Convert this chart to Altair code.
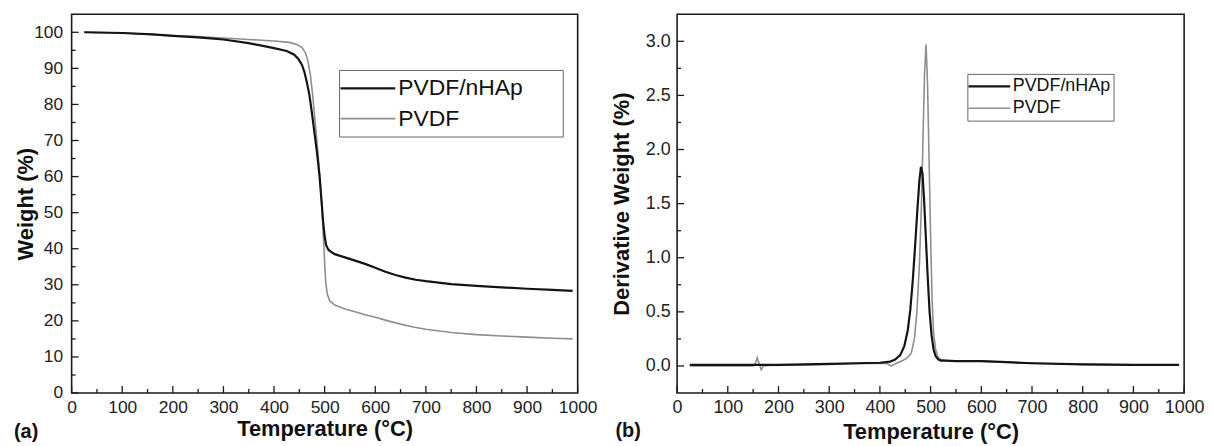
import altair as alt
import pandas as pd

FONT = "Liberation Sans"
SERIES = ["PVDF/nHAp", "PVDF"]
COLORS = ["#141414", "#8e8e8e"]
WIDTHS = [2.2, 1.6]

# ---- (a) TGA: weight (%) vs temperature (°C)
tga_nhap_T = [25, 100, 160, 200, 250, 300, 350, 400, 425, 440, 448, 455, 460, 465, 470, 475,
              480, 485, 490, 494, 497, 500, 503, 507, 512, 520, 540, 560, 580, 600, 620, 640,
              660, 680, 700, 750, 800, 850, 900, 950, 990]
tga_nhap_W = [100, 99.8, 99.4, 99.0, 98.6, 98.0, 97.0, 95.6, 94.8, 93.8, 92.6, 91.0, 89.0, 86.0,
              82.5, 77.5, 72.0, 66.5, 60.0, 53.0, 47.5, 43.5, 41.0, 39.8, 39.2, 38.5, 37.6, 36.7,
              35.8, 34.7, 33.6, 32.7, 32.0, 31.4, 31.0, 30.2, 29.7, 29.3, 28.9, 28.6, 28.3]
tga_pvdf_T = [25, 100, 160, 200, 250, 300, 350, 400, 430, 445, 455, 462, 467, 472, 476, 480,
              484, 488, 492, 495, 498, 500, 502, 505, 510, 520, 540, 560, 580, 600, 625, 650,
              675, 700, 750, 800, 850, 900, 950, 990]
tga_pvdf_W = [100, 99.8, 99.4, 99.1, 98.8, 98.4, 98.0, 97.6, 97.2, 96.6, 95.8, 94.3, 92.0, 88.0,
              83.0, 77.0, 71.0, 64.5, 57.0, 50.0, 42.0, 36.0, 31.0, 27.5, 25.6, 24.4, 23.3, 22.5,
              21.7, 21.0, 20.0, 19.1, 18.3, 17.7, 16.8, 16.2, 15.8, 15.5, 15.2, 15.0]

# ---- (b) DTG: derivative weight (%) vs temperature (°C)
dtg_nhap_T = [25, 100, 150, 200, 250, 300, 350, 400, 420, 430, 440, 448, 455, 460, 465, 470,
              474, 478, 481, 484, 487, 490, 494, 498, 502, 506, 510, 515, 520, 530, 550, 600,
              650, 700, 800, 900, 990]
dtg_nhap_V = [0.01, 0.01, 0.01, 0.01, 0.015, 0.02, 0.025, 0.03, 0.04, 0.06, 0.10, 0.18, 0.33,
              0.52, 0.80, 1.15, 1.45, 1.72, 1.84, 1.78, 1.55, 1.25, 0.85, 0.50, 0.28, 0.15, 0.09,
              0.06, 0.05, 0.05, 0.045, 0.045, 0.035, 0.025, 0.015, 0.01, 0.01]
dtg_pvdf_T = [25, 100, 150, 155, 158, 162, 166, 170, 180, 250, 300, 350, 400, 415, 422, 428,
              435, 445, 455, 462, 468, 473, 478, 482, 485, 488, 491, 494, 497, 500, 503, 506,
              510, 515, 520, 530, 550, 600, 650, 700, 800, 900, 990]
dtg_pvdf_V = [0.0, 0.0, 0.0, 0.03, 0.075, 0.02, -0.035, 0.0, 0.005, 0.01, 0.015, 0.02, 0.025,
              0.02, 0.0, 0.015, 0.03, 0.05, 0.08, 0.12, 0.25, 0.50, 0.95, 1.50, 2.10, 2.70,
              2.97, 2.60, 1.90, 1.20, 0.60, 0.30, 0.15, 0.08, 0.06, 0.05, 0.045, 0.045, 0.035,
              0.025, 0.015, 0.01, 0.01]

# ---- tick values
x_major = list(range(0, 1001, 100))
x_minor = list(range(50, 1000, 100))
tga_y_major = list(range(0, 101, 10))
tga_y_minor = list(range(5, 100, 10))
dtg_y_major = [0.0, 0.5, 1.0, 1.5, 2.0, 2.5, 3.0]
dtg_y_minor = [0.25, 0.75, 1.25, 1.75, 2.25, 2.75]

X_DOM = [0, 1000]
TGA_DOM = [0, 105]
DTG_DOM = [-0.25, 3.25]

tga_df = pd.concat([
    pd.DataFrame({"series": SERIES[1], "T": tga_pvdf_T, "value": tga_pvdf_W}),
    pd.DataFrame({"series": SERIES[0], "T": tga_nhap_T, "value": tga_nhap_W}),
])
dtg_df = pd.concat([
    pd.DataFrame({"series": SERIES[1], "T": dtg_pvdf_T, "value": dtg_pvdf_V}),
    pd.DataFrame({"series": SERIES[0], "T": dtg_nhap_T, "value": dtg_nhap_V}),
])

BLANK = "\u2800"  # invisible pad glyph that widens the legend box
LINE_SYMBOL = "M-2.5,0H2.5"


def sc(dom):
    return alt.Scale(domain=dom, nice=False, zero=False)


def panel(df, W, H, ydom, ymaj, ymin, ytitle, yfmt, lab_size, ylab_pad, ytitle_pad,
          xtitle_pad, legend, tag, tag_x, tag_y):
    x_axis = alt.Axis(values=x_major, format="d", title="Temperature (°C)",
                      labelFontSize=lab_size, labelPadding=6, labelOverlap=False,
                      labelFlush=False, titleFontSize=22, titlePadding=xtitle_pad)
    y_axis = alt.Axis(values=ymaj, format=yfmt, title=ytitle,
                      labelFontSize=lab_size, labelPadding=ylab_pad, labelOverlap=False,
                      labelFlush=False, titleFontSize=22, titlePadding=ytitle_pad)

    def ticks(values, length, which):
        base = alt.Chart(pd.DataFrame({"v": values})).mark_rule(color="#1a1a1a", strokeWidth=1.3)
        if which == "x":
            return base.encode(x=alt.X("v:Q", scale=sc(X_DOM), axis=x_axis),
                               y=alt.value(H), y2=alt.value(H - length))
        return base.encode(y=alt.Y("v:Q", scale=sc(ydom), axis=y_axis),
                           x=alt.value(0), x2=alt.value(length))

    lines = alt.Chart(df).mark_line(clip=True).encode(
        x=alt.X("T:Q", scale=sc(X_DOM), axis=x_axis),
        y=alt.Y("value:Q", scale=sc(ydom), axis=y_axis),
        color=alt.Color("series:N", scale=alt.Scale(domain=SERIES, range=COLORS), legend=legend),
        strokeWidth=alt.StrokeWidth("series:N", scale=alt.Scale(domain=SERIES, range=WIDTHS),
                                    legend=None),
    )
    tag_mark = alt.Chart(pd.DataFrame({"tag": [tag]})).mark_text(
        align="left", baseline="middle", font=FONT, fontSize=20, fontWeight="bold", color="#111"
    ).encode(text="tag:N", x=alt.value(tag_x), y=alt.value(tag_y))
    return alt.layer(
        lines,
        ticks(x_major, 7, "x"),
        ticks(x_minor, 4, "x"),
        ticks(ymaj, 7, "y"),
        ticks(ymin, 4, "y"),
        tag_mark,
    ).properties(width=W, height=H)


leg_a = alt.Legend(title=None, orient="none", legendX=269, legendY=56,
                   symbolType=LINE_SYMBOL, symbolSize=484, symbolStrokeWidth=2,
                   labelFont=FONT, labelFontSize=23, labelColor="#111", labelLimit=400,
                   strokeColor="#666", fillColor="white", padding=6, rowPadding=6,
                   symbolOffset=10.5, labelOffset=18,
                   labelExpr="datum.label + '" + BLANK * 2 + "'")
leg_b = alt.Legend(title=None, orient="none", legendX=292, legendY=60,
                   symbolType=LINE_SYMBOL, symbolSize=282, symbolStrokeWidth=2,
                   labelFont=FONT, labelFontSize=18, labelColor="#111", labelLimit=400,
                   strokeColor="#666", fillColor="white", padding=3, rowPadding=3,
                   symbolOffset=9.6, labelOffset=14)

left = panel(tga_df, 509, 381, TGA_DOM, tga_y_major, tga_y_minor, "Weight (%)", "d",
             17.5, 9, -4, 2, leg_a, "(a)", -58, 420)
right = panel(dtg_df, 510, 381, DTG_DOM, dtg_y_major, dtg_y_minor, "Derivative Weight (%)",
              ".1f", 18, 7, 12, 5, leg_b, "(b)", -62, 419)

chart = alt.hconcat(left, right, spacing=100, bounds="flush").resolve_scale(
    color="independent", strokeWidth="independent"
).resolve_legend(color="independent").properties(
    padding={"left": 5, "top": 4, "right": 0, "bottom": 0}, background="white"
).configure_view(stroke="#1a1a1a", strokeWidth=1.6).configure_axis(
    grid=False, domain=False, ticks=False, labelFont=FONT, titleFont=FONT,
    labelColor="#222", titleColor="#111", titleFontWeight="bold"
)

chart.save("out.html", embed_options={"renderer": "svg", "actions": False})
